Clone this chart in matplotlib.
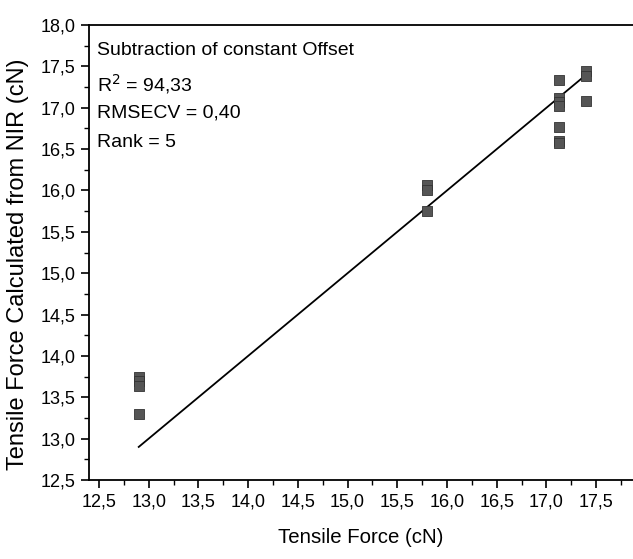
import matplotlib
matplotlib.use("Agg")
import matplotlib.pyplot as plt
from matplotlib.ticker import MultipleLocator, FuncFormatter

plt.rcParams['font.family'] = ['Liberation Sans', 'DejaVu Sans']

# measured vs predicted tensile force (cN)
measured = [12.9, 12.9, 12.9, 12.9,
            15.8, 15.8, 15.8,
            17.13, 17.13, 17.13, 17.13, 17.13, 17.13, 17.13,
            17.4, 17.4, 17.4]
predicted = [13.75, 13.70, 13.64, 13.30,
             16.06, 16.00, 15.75,
             17.33, 17.12, 17.07, 17.02, 16.77, 16.60, 16.57,
             17.44, 17.38, 17.08]

# regression line end points
line_x = [12.9, 17.4]
line_y = [12.9, 17.4]

info = ["Subtraction of constant Offset", r"R$^2$ = 94,33", "RMSECV = 0,40", "Rank = 5"]
info_y = [0.945, 0.870, 0.807, 0.741]

fig = plt.figure(figsize=(6.33, 5.59), dpi=100)
ax = fig.add_axes([0.1406, 0.1413, 0.8594, 0.814])

ax.plot(line_x, line_y, color='black', lw=1.3)
ax.scatter(measured, predicted, marker='s', s=42, color='#555555',
           edgecolors='#333333', linewidths=0.6, zorder=3)

ax.set_xlim(12.4, 17.87)
ax.set_ylim(12.5, 18.0)

comma = FuncFormatter(lambda v, p: f"{v:.1f}".replace('.', ','))
ax.xaxis.set_major_locator(MultipleLocator(0.5))
ax.xaxis.set_minor_locator(MultipleLocator(0.25))
ax.yaxis.set_major_locator(MultipleLocator(0.5))
ax.yaxis.set_minor_locator(MultipleLocator(0.25))
ax.xaxis.set_major_formatter(comma)
ax.yaxis.set_major_formatter(comma)

ax.tick_params(which='major', direction='out', length=6, width=1.2, labelsize=13, colors='black')
ax.tick_params(which='minor', direction='out', length=3.5, width=1.0)
ax.spines['right'].set_visible(False)
for s in ['left', 'bottom', 'top']:
    ax.spines[s].set_linewidth(1.3)

ax.set_xlabel("Tensile Force (cN)", fontsize=14.7, labelpad=13)
ax.set_ylabel("Tensile Force Calculated from NIR (cN)", fontsize=17)
ax.yaxis.set_label_coords(-0.110, 0.475)

for t, yy in zip(info, info_y):
    ax.text(0.015, yy, t, transform=ax.transAxes, fontsize=14,
            ha='left', va='center')

fig.savefig("out.png", dpi=100)
